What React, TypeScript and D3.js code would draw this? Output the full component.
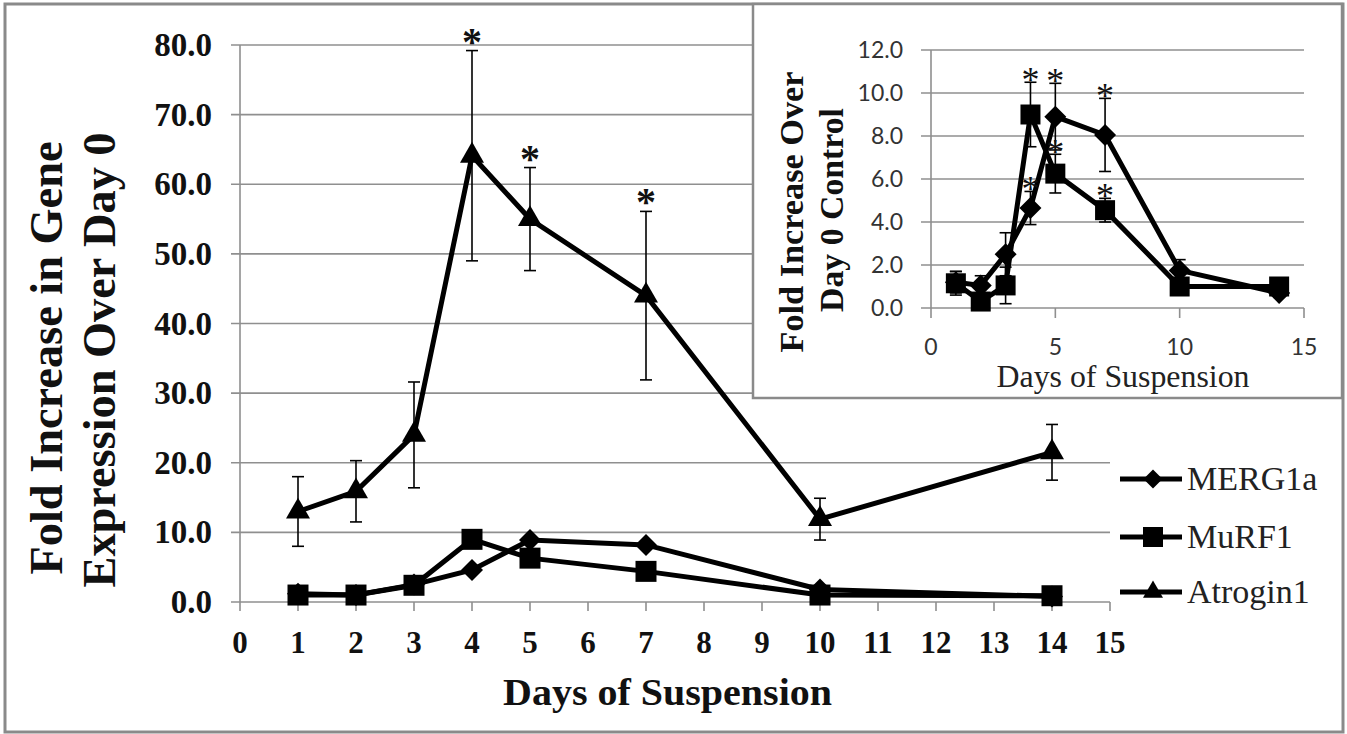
import React from "react";
import * as d3 from "d3";

// ---------- data ----------
const days = [1, 2, 3, 4, 5, 7, 10, 14];
const xTicks = d3.range(0, 16);
const yTicksMain = [0, 10, 20, 30, 40, 50, 60, 70, 80];

// main chart
const atrogin1 = [13.0, 15.9, 24.0, 64.1, 55.0, 44.0, 11.9, 21.5];
const atrogin1Err = [5.0, 4.4, 7.6, 15.1, 7.4, 12.1, 3.0, 4.0];
const merg1aMain = [1.2, 1.0, 2.5, 4.6, 8.9, 8.2, 1.8, 0.8];
const murf1Main = [1.0, 1.0, 2.4, 9.0, 6.3, 4.4, 1.0, 0.9];
const atroginStarDays = [4, 5, 7];

// inset chart
const insetXTicks = [0, 5, 10, 15];
const insetYTicks = [0, 2, 4, 6, 8, 10, 12];
const merg1aInset = [1.2, 1.05, 2.5, 4.65, 8.9, 8.05, 1.75, 0.7];
const merg1aInsetErr = [0.5, 0.45, 1.0, 0.77, 1.55, 1.7, 0.5, 0.2];
const murf1Inset = [1.15, 0.3, 1.05, 9.0, 6.25, 4.55, 1.0, 1.0];
const murf1InsetErr = [0.55, 0.4, 0.85, 1.5, 0.9, 0.55, 0.2, 0.2];
const insetStarDays = [4, 5, 7];

const legendItems = ["MERG1a", "MuRF1", "Atrogin1"];

// ---------- helpers ----------
const SERIF = "'Liberation Serif', 'Times New Roman', serif";
const SANS = "Lato, 'Liberation Sans', sans-serif";
const GRID = "#8f8f8f";
const INK = "#111";

const diamondType = {
  draw(ctx: any, size: number) {
    const r = Math.sqrt(size / 2);
    ctx.moveTo(0, -r);
    ctx.lineTo(r, 0);
    ctx.lineTo(0, r);
    ctx.lineTo(-r, 0);
    ctx.closePath();
  },
};

function marker(kind: string, s: number) {
  if (kind === "diamond") return d3.symbol().type(diamondType as any).size((s * s) / 2)();
  if (kind === "square") return d3.symbol().type(d3.symbolSquare).size(s * s)();
  return d3.symbol().type(d3.symbolTriangle).size((Math.sqrt(3) / 4) * s * s)();
}

export default function App() {
  // main scales
  const x = d3.scaleLinear().domain([0, 15]).range([240, 1110]);
  const y = d3.scaleLinear().domain([0, 80]).range([602, 45]);
  // inset scales
  const xi = d3.scaleLinear().domain([0, 15]).range([931, 1304]);
  const yi = d3.scaleLinear().domain([0, 12]).range([308, 50]);

  const lineMain = (vals: number[]) =>
    d3.line<number>().x((_, i) => x(days[i])).y((v) => y(v))(vals) || "";
  const lineInset = (vals: number[]) =>
    d3.line<number>().x((_, i) => xi(days[i])).y((v) => yi(v))(vals) || "";

  const errBars = (
    vals: number[],
    errs: number[],
    sx: any,
    sy: any,
    cap: number,
    w: number,
    key: string
  ) =>
    vals.map((v, i) => {
      const cx = sx(days[i]);
      const t = sy(v + errs[i]);
      const b = sy(v - errs[i]);
      return (
        <g key={key + i} stroke="#000" strokeWidth={w}>
          <line x1={cx} x2={cx} y1={t} y2={b} />
          <line x1={cx - cap} x2={cx + cap} y1={t} y2={t} />
          <line x1={cx - cap} x2={cx + cap} y1={b} y2={b} />
        </g>
      );
    });

  const stars = (
    vals: number[],
    errs: number[],
    starDays: number[],
    sx: any,
    sy: any,
    fs: number,
    bold: boolean,
    off: number,
    key: string
  ) =>
    starDays.map((d) => {
      const i = days.indexOf(d);
      return (
        <text
          key={key + d}
          x={sx(d)}
          y={sy(vals[i] + errs[i]) + off}
          textAnchor="middle"
          fontFamily={SERIF}
          fontWeight={bold ? "bold" : "normal"}
          fontSize={fs}
          fill={INK}
        >
          *
        </text>
      );
    });

  const markers = (vals: number[], kind: string, s: number, sx: any, sy: any, key: string) =>
    vals.map((v, i) => (
      <path
        key={key + i}
        d={marker(kind, s)}
        transform={`translate(${sx(days[i])},${sy(v)})`}
        fill="#000"
      />
    ));

  const legendY = [479, 537, 592];
  const legendKinds = ["diamond", "square", "triangle"];

  return (
    <svg
      width={1347}
      height={734}
      style={{ position: "absolute", left: 0, top: 0, background: "#fff" }}
    >
      <rect x={5} y={4} width={1338} height={728} fill="#fff" stroke="#8a8a8a" strokeWidth={3} />

      {/* main gridlines */}
      {yTicksMain.map((t) => (
        <line key={"g" + t} x1={231} x2={1110} y1={y(t)} y2={y(t)} stroke={GRID} strokeWidth={1.6} />
      ))}
      {/* axes */}
      <line x1={240} x2={240} y1={y(80)} y2={y(0)} stroke={GRID} strokeWidth={1.6} />
      {xTicks.map((t) => (
        <line key={"xt" + t} x1={x(t)} x2={x(t)} y1={602} y2={611} stroke={GRID} strokeWidth={1.6} />
      ))}
      {/* y tick labels */}
      {yTicksMain.map((t) => (
        <text
          key={"yl" + t}
          x={212}
          y={y(t) + 11}
          textAnchor="end"
          fontFamily={SERIF}
          fontWeight="bold"
          fontSize={33}
          fill={INK}
        >
          {t.toFixed(1)}
        </text>
      ))}
      {/* x tick labels */}
      {xTicks.map((t) => (
        <text
          key={"xl" + t}
          x={x(t)}
          y={653}
          textAnchor="middle"
          fontFamily={SERIF}
          fontWeight="bold"
          fontSize={31}
          fill={INK}
        >
          {t}
        </text>
      ))}
      {/* axis titles */}
      <text
        x={667.5}
        y={705}
        textAnchor="middle"
        fontFamily={SERIF}
        fontWeight="bold"
        fontSize={37}
        textLength={329}
        lengthAdjust="spacingAndGlyphs"
        fill={INK}
      >
        Days of Suspension
      </text>
      <text
        transform="translate(62,358) rotate(-90)"
        textAnchor="middle"
        fontFamily={SERIF}
        fontWeight="bold"
        fontSize={46}
        textLength={433}
        lengthAdjust="spacingAndGlyphs"
        fill={INK}
      >
        Fold Increase in Gene
      </text>
      <text
        transform="translate(115,360) rotate(-90)"
        textAnchor="middle"
        fontFamily={SERIF}
        fontWeight="bold"
        fontSize={46}
        textLength={455}
        lengthAdjust="spacingAndGlyphs"
        fill={INK}
      >
        Expression Over Day 0
      </text>

      {/* main series */}
      {errBars(atrogin1, atrogin1Err, x, y, 6, 1.6, "ae")}
      <path d={lineMain(merg1aMain)} fill="none" stroke="#000" strokeWidth={5} />
      <path d={lineMain(murf1Main)} fill="none" stroke="#000" strokeWidth={5} />
      <path d={lineMain(atrogin1)} fill="none" stroke="#000" strokeWidth={5} />
      {markers(merg1aMain, "diamond", 22, x, y, "md")}
      {markers(murf1Main, "square", 21, x, y, "ms")}
      {markers(atrogin1, "triangle", 24, x, y, "mt")}
      {stars(atrogin1, atrogin1Err, atroginStarDays, x, y, 40, true, 4, "as")}

      {/* legend */}
      {legendItems.map((name, i) => (
        <g key={"lg" + name}>
          <line x1={1120} x2={1182} y1={legendY[i]} y2={legendY[i]} stroke="#000" strokeWidth={5} />
          <path
            d={marker(legendKinds[i], legendKinds[i] === "diamond" ? 19 : 20)}
            transform={`translate(1153,${legendY[i]})`}
            fill="#000"
          />
          <text x={1187} y={legendY[i] + 11} fontFamily={SERIF} fontSize={34} fill="#222">
            {name}
          </text>
        </g>
      ))}

      {/* inset */}
      <rect x={753} y={4} width={589} height={394} fill="#fff" stroke="#8a8a8a" strokeWidth={2.5} />
      {insetYTicks.map((t) => (
        <line key={"ig" + t} x1={921} x2={1304} y1={yi(t)} y2={yi(t)} stroke={GRID} strokeWidth={1.6} />
      ))}
      <line x1={931} x2={931} y1={yi(12)} y2={yi(0)} stroke={GRID} strokeWidth={1.6} />
      {insetXTicks.map((t) => (
        <line key={"ixt" + t} x1={xi(t)} x2={xi(t)} y1={308} y2={318} stroke={GRID} strokeWidth={1.6} />
      ))}
      {insetYTicks.map((t) => (
        <text
          key={"iyl" + t}
          x={903}
          y={yi(t) + 8}
          textAnchor="end"
          fontFamily={SANS}
          fontSize={23}
          fill="#333"
        >
          {t.toFixed(1)}
        </text>
      ))}
      {insetXTicks.map((t) => (
        <text
          key={"ixl" + t}
          x={xi(t)}
          y={355}
          textAnchor="middle"
          fontFamily={SANS}
          fontSize={23}
          fill="#333"
        >
          {t}
        </text>
      ))}
      <text
        x={1123}
        y={387}
        textAnchor="middle"
        fontFamily={SERIF}
        fontSize={31}
        textLength={253}
        lengthAdjust="spacingAndGlyphs"
        fill="#222"
      >
        Days of Suspension
      </text>
      <text
        transform="translate(803,212) rotate(-90)"
        textAnchor="middle"
        fontFamily={SERIF}
        fontWeight="bold"
        fontSize={34}
        textLength={281}
        lengthAdjust="spacingAndGlyphs"
        fill={INK}
      >
        Fold Increase Over
      </text>
      <text
        transform="translate(843,210) rotate(-90)"
        textAnchor="middle"
        fontFamily={SERIF}
        fontWeight="bold"
        fontSize={34}
        textLength={204}
        lengthAdjust="spacingAndGlyphs"
        fill={INK}
      >
        Day 0 Control
      </text>

      {errBars(merg1aInset, merg1aInsetErr, xi, yi, 6, 1.6, "ime")}
      {errBars(murf1Inset, murf1InsetErr, xi, yi, 6, 1.6, "imu")}
      <path d={lineInset(merg1aInset)} fill="none" stroke="#000" strokeWidth={5} />
      <path d={lineInset(murf1Inset)} fill="none" stroke="#000" strokeWidth={5} />
      {markers(merg1aInset, "diamond", 22, xi, yi, "id")}
      {markers(murf1Inset, "square", 20, xi, yi, "is")}
      {stars(merg1aInset, merg1aInsetErr, insetStarDays, xi, yi, 36, false, 10, "ims")}
      {stars(murf1Inset, murf1InsetErr, insetStarDays, xi, yi, 36, false, 10, "ius")}
    </svg>
  );
}
